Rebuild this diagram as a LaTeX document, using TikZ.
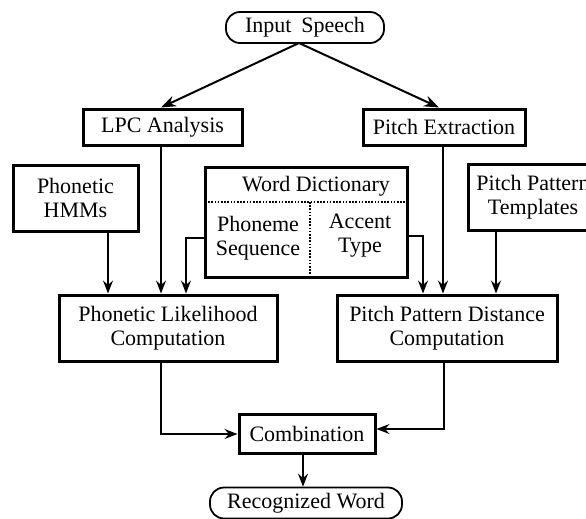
\documentclass[tikz,border=0pt]{standalone}
\usepackage{fontspec}
\setmainfont{Liberation Serif}
\usetikzlibrary{arrows.meta}
\begin{document}
\begin{tikzpicture}[x=1pt,y=-1pt,
  box/.style={draw, line width=3pt, inner sep=0pt, align=center},
  pill/.style={draw, line width=1.8pt, rounded corners=14pt, inner sep=0pt},
  txt/.style={inner sep=0pt, align=center},
  conn/.style={line width=1.5pt, -{Stealth[length=13pt,width=10pt,inset=4.5pt]}},
  fork/.style={line width=2pt, -{Stealth[length=15pt,width=11pt,inset=5pt]}},
  sep/.style={line width=1.6pt, dash pattern=on 1.6pt off 1.6pt},
  font=\fontsize{22}{24}\selectfont]
\useasboundingbox (0,0) rectangle (586,519);
\clip (0,0) rectangle (586,519);

% terminals
\node[pill, minimum width=158pt, minimum height=31pt] (in) at (305,27.5) {Input\hspace{0.45em}Speech};
\node[pill, minimum width=192pt, minimum height=31pt] (out) at (306,503) {Recognized Word};

% front-end analysis
\node[box, minimum width=159pt, minimum height=36pt] (lpc) at (162.5,127) {LPC Analysis};
\node[box, minimum width=162pt, minimum height=36pt] (pe) at (444,127) {Pitch Extraction};

% knowledge sources
\node[box, minimum width=125pt, minimum height=66pt] (hmm) at (75.5,198) {Phonetic\\HMMs};
\node[box, minimum width=202pt, minimum height=110pt] (wd) at (306,222) {};
\node[box, minimum width=130pt, minimum height=66pt] (tpl) at (533,197) {Pitch Pattern\\Templates};

% word dictionary fields
\node[txt] (wdt) at (316,186) {Word Dictionary};
\node[txt] (ps) at (258,238) {Phoneme\\Sequence};
\node[txt] (at) at (360,236) {Accent\\Type};
\coordinate (hl) at (205,202);
\coordinate (hr) at (407,202);
\coordinate (vt) at (310,202);
\coordinate (vb) at (310,277);
\draw[sep] (hl) -- (hr);
\draw[sep] (vt) -- (vb);

% scoring
\node[box, minimum width=218pt, minimum height=66pt] (pl) at (168,328) {Phonetic Likelihood\\Computation};
\node[box, minimum width=220pt, minimum height=66pt] (ppd) at (447,328) {Pitch Pattern Distance\\Computation};
\node[box, minimum width=136pt, minimum height=39pt] (cmb) at (307,433.5) {Combination};

% connectors
\coordinate (apex) at (299,43);
\draw[fork] (apex) -- (lpc.north -| 161,0);
\draw[fork] (apex) -- (pe.north -| 439,0);

\draw[conn] (lpc.south -| 161,0) -- (pl.north -| 161,0);
\draw[conn] (hmm.south -| 108,0) -- (pl.north -| 108,0);
\draw[conn] (wd.west |- ps.center) -| (pl.north -| 186,0);

\draw[conn] (wd.east |- at.center) -| (ppd.north -| 423,0);
\draw[conn] (pe.south -| 443,0) -- (ppd.north -| 443,0);
\draw[conn] (tpl.south -| 496,0) -- (ppd.north -| 496,0);

\draw[conn] (pl.south -| 161,0) |- (cmb.west |- 0,434);
\draw[conn] (ppd.south -| 444,0) |- (cmb.east |- 0,429);
\draw[conn] (cmb.south -| 303,0) -- (out.north -| 303,0);
\end{tikzpicture}
\end{document}
